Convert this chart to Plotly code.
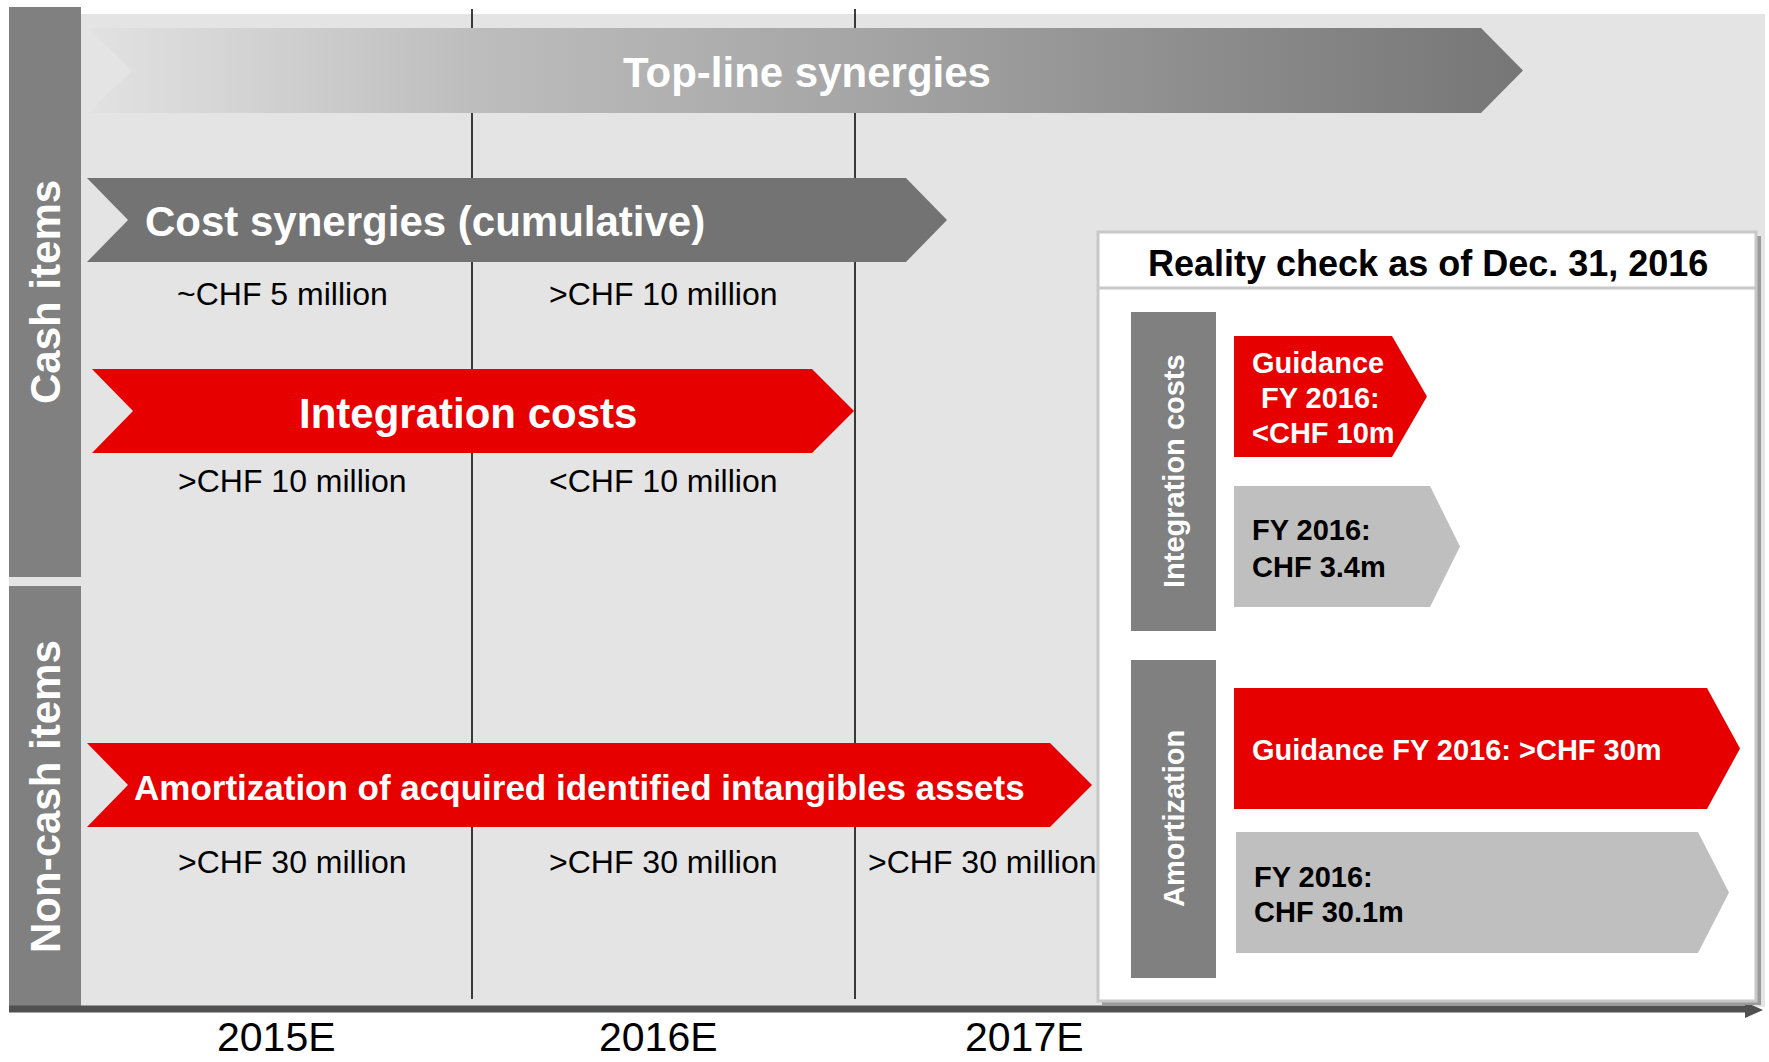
import plotly.graph_objects as go

# ---------------- data ----------------
years = ["2015E", "2016E", "2017E"]
sections = ["Cash items", "Non-cash items"]
streams = [
    "Top-line synergies",
    "Cost synergies (cumulative)",
    "Integration costs",
    "Amortization of acquired identified intangibles assets",
]
cost_synergy_values = ["~CHF 5 million", ">CHF 10 million"]
integration_cost_values = [">CHF 10 million", "<CHF 10 million"]
amortization_values = [">CHF 30 million", ">CHF 30 million", ">CHF 30 million"]
check_title = "Reality check as of Dec. 31, 2016"
check_groups = ["Integration costs", "Amortization"]
integration_check = [["Guidance", "FY 2016:", "<CHF 10m"], ["FY 2016:", "CHF 3.4m"]]
amortization_check = [["Guidance FY 2016: >CHF 30m"], ["FY 2016:", "CHF 30.1m"]]

# ---------------- layout constants ----------------
W, H = 1769, 1062
FONT = "Liberation Sans, Arial, Helvetica, sans-serif"
RED = "#e60000"
BG = "#e4e4e4"
DARK = "#808080"
LIGHT = "#bfbfbf"

col_lines = [472, 855]
year_x = [276, 658, 1024]
row_value_x = {
    "cost": [282, 663],
    "integration": [292, 663],
    "amortization": [292, 663, 982],
}


def chevron(x0, x1, tip, y0, y1, notch=None):
    ym = (y0 + y1) / 2
    p = f"M {x0},{y0} L {x1},{y0} L {tip},{ym} L {x1},{y1} L {x0},{y1}"
    if notch is not None:
        p += f" L {notch},{ym}"
    return p + " Z"


shapes = []
annotations = []


def rect(x0, y0, x1, y1, fill, layer="above", line=None):
    d = dict(type="rect", xref="x", yref="y", x0=x0, y0=y0, x1=x1, y1=y1,
             fillcolor=fill, layer=layer, line=dict(width=0))
    if line:
        d["line"] = line
    shapes.append(d)


def path(p, fill, layer="above"):
    shapes.append(dict(type="path", xref="x", yref="y", path=p, fillcolor=fill,
                       line=dict(width=0), layer=layer))


def text(x, y, s, size, color="black", bold=False, xanchor="center", angle=0):
    annotations.append(dict(
        x=x, y=y, xref="x", yref="y", text=f"<b>{s}</b>" if bold else s,
        showarrow=False, xanchor=xanchor, yanchor="middle", textangle=angle,
        font=dict(family=FONT, size=size, color=color)))


# background panel
rect(9, 14, 1765, 1007, BG, layer="below")
# section side bars
rect(9, 7, 81, 577, DARK, layer="below")
rect(9, 586, 81, 1007, DARK, layer="below")
text(45, 292, sections[0], 42, "white", True, angle=-90)
text(45, 797, sections[1], 42, "white", True, angle=-90)

# year separators
for xl in col_lines:
    shapes.append(dict(type="line", xref="x", yref="y", x0=xl, x1=xl, y0=9, y1=999,
                       line=dict(color="black", width=1.5), layer="below"))

# top-line synergies arrow (gradient, drawn as a filled trace)
tl = dict(x0=88, x1=1481, tip=1523, y0=28, y1=113, notch=132)
tl_x = [tl["x0"], tl["x1"], tl["tip"], tl["x1"], tl["x0"], tl["notch"], tl["x0"]]
tl_y = [tl["y0"], tl["y0"], (tl["y0"] + tl["y1"]) / 2, tl["y1"], tl["y1"],
        (tl["y0"] + tl["y1"]) / 2, tl["y0"]]
top_trace = go.Scatter(
    x=tl_x, y=tl_y, mode="lines", fill="toself", line=dict(width=0),
    fillgradient=dict(type="horizontal",
                      colorscale=[[0, "#e2e2e2"], [0.27, "#bdbdbd"], [0.55, "#a4a4a4"],
                                  [1, "#767676"]]),
    hoverinfo="skip", showlegend=False)
text(807, 72, streams[0], 42, "white", True)

# cost synergies
path(chevron(87, 906, 947, 178, 262, notch=128), "#737373")
text(143, 221, streams[1], 42, "white", True, xanchor="left")
for xv, v in zip(row_value_x["cost"], cost_synergy_values):
    text(xv, 294, v, 32)

# integration costs
path(chevron(92, 812, 854, 369, 453, notch=133), RED)
text(468, 413, streams[2], 42, "white", True)
for xv, v in zip(row_value_x["integration"], integration_cost_values):
    text(xv, 481, v, 32)

# amortization
path(chevron(87, 1050, 1092, 743, 827, notch=128), RED)
text(579, 787, streams[3], 35, "white", True)
for xv, v in zip(row_value_x["amortization"], amortization_values):
    text(xv, 862, v, 32)

# time axis
shapes.append(dict(type="line", xref="x", yref="y", x0=9, x1=1747, y0=1009, y1=1009,
                   line=dict(color="#505050", width=7)))
path("M 1745,1002 L 1763,1010 L 1745,1018 Z", "#505050")
for xv, yr in zip(year_x, years):
    text(xv, 1037, yr, 41)

# reality check box
rect(1102, 236, 1761, 1005, "#9a9a9a")
rect(1098, 232, 1756, 1001, "white", line=dict(color="#c8c8c8", width=3))
shapes.append(dict(type="line", xref="x", yref="y", x0=1098, x1=1756, y0=288, y1=288,
                   line=dict(color="#c8c8c8", width=3)))
text(1428, 263, check_title, 36, "black", True)

# integration costs group
rect(1131, 312, 1216, 631, DARK)
text(1174, 471, check_groups[0], 29, "white", True, angle=-90)
path(chevron(1234, 1392, 1427, 336, 457), RED)
for (xv, yv), s in zip([(1250, 363), (1259, 398), (1250, 433)], integration_check[0]):
    text(xv, yv, s, 29, "white", True, xanchor="left")
path(chevron(1234, 1430, 1460, 486, 607), LIGHT)
for yv, s in zip([530, 567], integration_check[1]):
    text(1250, yv, s, 29, "black", True, xanchor="left")

# amortization group
rect(1131, 660, 1216, 978, DARK)
text(1174, 819, check_groups[1], 29, "white", True, angle=-90)
path(chevron(1234, 1707, 1740, 688, 809), RED)
text(1250, 750, amortization_check[0][0], 29, "white", True, xanchor="left")
path(chevron(1236, 1698, 1729, 832, 953), LIGHT)
for yv, s in zip([877, 912], amortization_check[1]):
    text(1252, yv, s, 29, "black", True, xanchor="left")

fig = go.Figure(top_trace)
fig.update_layout(
    width=W, height=H, margin=dict(l=0, r=0, t=0, b=0),
    paper_bgcolor="white", plot_bgcolor="white",
    xaxis=dict(range=[0, W], visible=False, fixedrange=True),
    yaxis=dict(range=[H, 0], visible=False, fixedrange=True),
    shapes=shapes, annotations=annotations, showlegend=False,
)
fig.write_html(
    "out.html",
    config={"displayModeBar": False},
    post_script="document.body.style.margin='0';document.body.style.overflow='hidden';",
)
